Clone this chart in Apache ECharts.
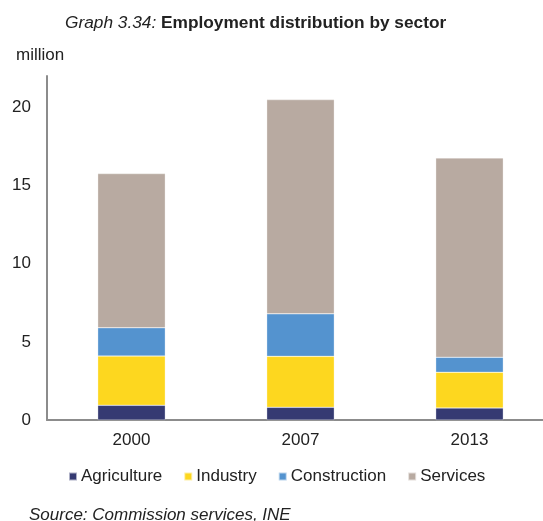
<!DOCTYPE html>
<html>
<head>
<meta charset="utf-8">
<script src="https://cdn.jsdelivr.net/npm/echarts@6/dist/echarts.min.js"></script>
<style>html,body{margin:0;padding:0;background:#fff;overflow:hidden;width:543px;height:521px}#c{width:554px;height:521px}</style>
</head>
<body>
<div id="c"></div>
<script>
const categories = ['2000', '2007', '2013'];
const agriculture = [0.94, 0.81, 0.77];
const industry = [3.15, 3.26, 2.28];
const construction = [1.81, 2.72, 0.96];
const services = [9.86, 13.70, 12.75];
const yTicks = [0, 5, 10, 15, 20];

const FONT = '"Liberation Sans", Arial, sans-serif';
const chart = echarts.init(document.getElementById('c'));
const mk = (name, data, color) => ({
  name, type: 'bar', stack: 'total', data, barWidth: '40%',
  itemStyle: { color, borderColor: 'rgba(255,255,255,0.6)', borderWidth: 0.5 }
});
chart.setOption({
  animation: false,
  textStyle: { fontFamily: FONT },
  title: [{
    text: '{a|Graph 3.34: }{b|Employment distribution by sector}',
    left: 60, top: 10,
    textStyle: {
      rich: {
        a: { fontFamily: FONT, fontStyle: 'italic', fontWeight: 'normal', fontSize: 17.3, color: '#222' },
        b: { fontFamily: FONT, fontWeight: 'bold', fontSize: 17.3, color: '#222' }
      }
    }
  }, {
    text: 'million', left: 11, top: 42,
    textStyle: { fontFamily: FONT, fontSize: 17, fontWeight: 'normal', color: '#222' }
  }, {
    text: 'Source: Commission services, INE', left: 24, top: 502,
    textStyle: { fontFamily: FONT, fontSize: 17, fontStyle: 'italic', fontWeight: 'normal', color: '#222' }
  }],
  legend: {
    left: 63, top: 463, itemWidth: 8, itemHeight: 8, itemGap: 21,
    icon: 'rect',
    textStyle: { fontFamily: FONT, fontSize: 17, color: '#222', padding: [0, 0, 0, -1] },
    data: ['Agriculture', 'Industry', 'Construction', 'Services']
  },
  grid: { left: 47, right: 0, top: 76, bottom: 101 },
  xAxis: {
    type: 'category', data: categories,
    axisLine: { lineStyle: { color: '#8c8c8c', width: 2 } },
    axisTick: { show: false },
    axisLabel: { fontFamily: FONT, fontSize: 17, color: '#222', margin: 12 }
  },
  yAxis: {
    type: 'value', min: 0, max: 22, interval: 5,
    axisLine: { show: true, lineStyle: { color: '#8c8c8c', width: 2 } },
    axisTick: { show: false },
    splitLine: { show: false },
    axisLabel: {
      fontFamily: FONT, fontSize: 17, color: '#222', margin: 16, showMaxLabel: false,
      formatter: v => yTicks.includes(v) ? String(v) : ''
    }
  },
  series: [
    mk('Agriculture', agriculture, '#353a72'),
    mk('Industry', industry, '#fdd71f'),
    mk('Construction', construction, '#5493cf'),
    mk('Services', services, '#b8aaa1')
  ]
});
</script>
</body>
</html>
